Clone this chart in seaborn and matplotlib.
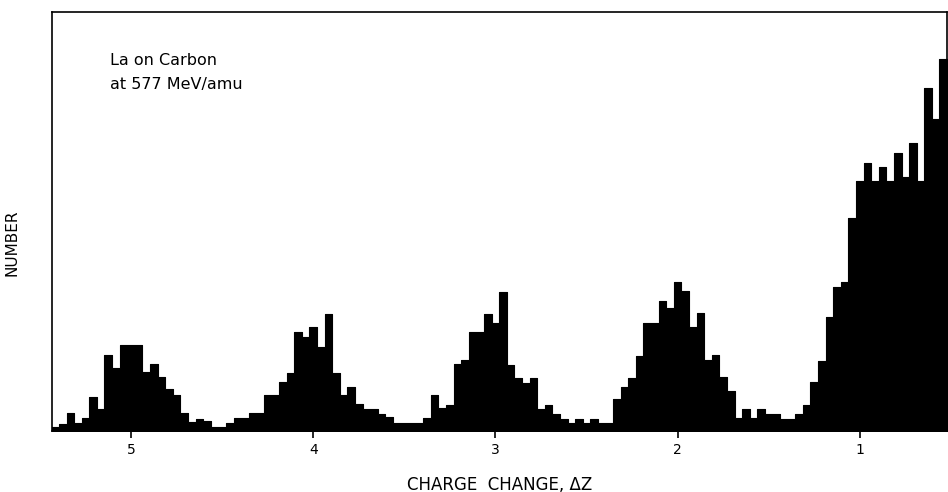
import numpy as np
import pandas as pd
import matplotlib
matplotlib.use("Agg")
import matplotlib.pyplot as plt
import seaborn as sns

# bin heights (arbitrary counts), left to right
# bins are 1/24 of a charge unit wide, centred on the integer ticks
left_of_5 = [4, 7, 17.5, 7.7, 12.7, 33.5, 22, 75.5, 62.7, 85.7]
peak_5 = [85.7]
from_5_to_4 = [85.7, 58.7, 67, 54, 41.5, 36, 17.5, 8.7, 12.3, 9.5, 4.3, 4.3,
               7.7, 12.7, 12.7, 17.7, 17.7, 36, 36, 49.3, 57.7, 99.3, 94.3, 103.7]
from_4_to_3 = [84.3, 117, 57.7, 36, 44.3, 27, 22, 22, 17, 13.7, 7.7, 7.7,
               7.7, 7.7, 12.5, 36, 22.5, 26, 66.5, 71, 99.3, 99.3, 117, 108]
from_3_to_2 = [139.3, 66, 52.7, 47.7, 52.7, 21.7, 26, 17, 12, 7.7, 12, 7.7,
               12, 7.7, 7.7, 31.7, 44.3, 53.3, 75.3, 108.3, 108.3, 130.3, 122.7, 149.3]
from_2_to_1 = [140, 104, 117.7, 71, 76, 53.5, 40, 12.5, 22, 12.5, 22, 16.7,
               16.7, 12, 12, 17, 26, 49.3, 70.3, 113.7, 144.3, 148.7, 212.7, 250]
right_of_1 = [268.3, 250, 263.7, 250, 277.7, 254.3, 287.7, 250, 343.3, 311.7, 371.7]

tick_values = [5, 4, 3, 2, 1]
tick_labels = ["5", "4", "3", "2", "1"]

BIN_WIDTH = 1 / 24

counts = np.array(left_of_5 + peak_5 + from_5_to_4 + from_4_to_3
                  + from_3_to_2 + from_2_to_1 + right_of_1)
first_center = 5 + len(left_of_5) * BIN_WIDTH
centers = first_center - np.arange(len(counts)) * BIN_WIDTH
lo = centers[-1] - BIN_WIDTH / 2
hi = centers[0] + BIN_WIDTH / 2

df = pd.DataFrame({"dz": centers, "n": counts})

sns.set_style("ticks")
plt.rcParams['font.family'] = ['DejaVu Sans']
plt.rcParams['text.color'] = 'black'
plt.rcParams['axes.labelcolor'] = 'black'

fig = plt.figure(figsize=(9.48, 4.92), dpi=100)
ax = fig.add_axes([0.055, 0.124, 0.944, 0.852])

sns.histplot(data=df, x="dz", weights="n", binwidth=BIN_WIDTH, binrange=(lo, hi),
             element="step", fill=True, color="black", alpha=1, linewidth=0.8, ax=ax)

ax.set_xlim(5.433, 0.521)
ax.set_ylim(0, 419)
ax.set_xticks(tick_values)
ax.set_xticklabels(tick_labels, fontsize=10)
ax.set_yticks([])
ax.tick_params(axis="x", direction="out", length=5, width=1.2, pad=4,
               colors="black", labelcolor="black")

for side in ["top", "bottom", "left", "right"]:
    ax.spines[side].set_visible(True)
    ax.spines[side].set_color("black")
    ax.spines[side].set_linewidth(1.2)

ax.set_xlabel("CHARGE  CHANGE, \u0394Z", fontsize=12, labelpad=13, color="black")
ax.set_ylabel("NUMBER", fontsize=11, color="black")
ax.yaxis.set_label_coords(-0.036, 0.45)

ax.text(0.065, 0.885, "La on Carbon", transform=ax.transAxes, fontsize=11.5,
        va="center", color="black")
ax.text(0.065, 0.826, "at 577 MeV/amu", transform=ax.transAxes, fontsize=11.5,
        va="center", color="black")

plt.savefig("out.png", dpi=100)
plt.close()
